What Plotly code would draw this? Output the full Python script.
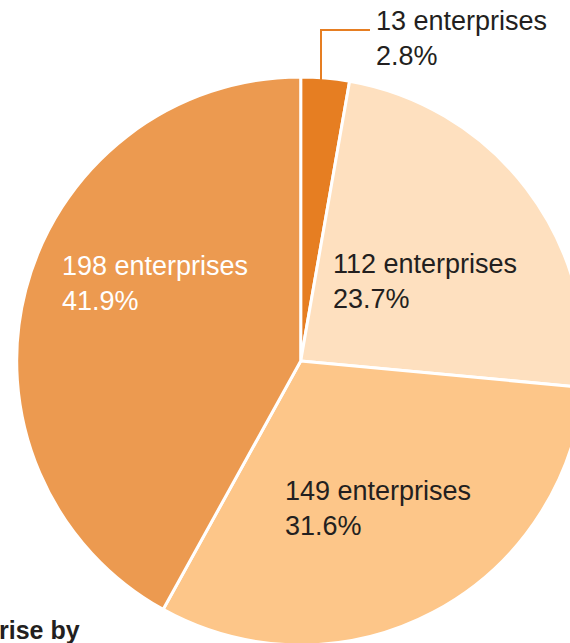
import plotly.graph_objects as go

# Enterprise counts per group, clockwise from 12 o'clock
counts = [13, 112, 149, 198]
colors = ["#E67E22", "#FEE0BF", "#FDC689", "#EC9A50"]
text_colors = ["#231F20", "#231F20", "#231F20", "#FFFFFF"]
unit = "enterprises"

W, H = 600, 660          # canvas larger than the viewport so the pie bleeds off the edges
CX, CY, R = 300.7, 361.0, 284.0

def px(x):
    return x / W

def py(y):
    return 1 - y / H

total = sum(counts)
shares = [c / total * 100 for c in counts]

fig = go.Figure(go.Pie(
    values=counts,
    sort=False,
    direction="clockwise",
    rotation=0,
    marker=dict(colors=colors, line=dict(color="white", width=3)),
    textinfo="none",
    hoverinfo="skip",
    domain=dict(x=[px(CX - R), px(CX + R)], y=[py(CY + R), py(CY - R)]),
    showlegend=False,
))

# label anchor points (left edge, top of text block) in pixels
label_pos = [(374, 4), (331, 247), (283, 474), (60, 249)]
for c, s, tc, (lx, ly) in zip(counts, shares, text_colors, label_pos):
    fig.add_annotation(
        x=px(lx), y=py(ly), xref="paper", yref="paper",
        xanchor="left", yanchor="top", align="left", showarrow=False,
        text=f"{c} {unit}<br>{s:.1f}%",
        font=dict(family="Liberation Sans, Arial, sans-serif", size=27, color=tc),
    )

# leader line for the smallest slice
fig.add_shape(type="path", xref="paper", yref="paper",
              path=f"M {px(321)} {py(80)} L {px(321)} {py(30)} L {px(370)} {py(30)}",
              line=dict(color="#E67E22", width=2))

fig.add_annotation(
    x=px(-3), y=py(646), xref="paper", yref="paper",
    xanchor="left", yanchor="bottom", showarrow=False,
    text="<b>rise by</b>",
    font=dict(family="Liberation Sans, Arial, sans-serif", size=25, color="#231F20"),
)

fig.update_layout(
    width=W, height=H,
    margin=dict(l=0, r=0, t=0, b=0),
    paper_bgcolor="white",
    plot_bgcolor="white",
)

fig.write_html(
    "out.html",
    config={"displayModeBar": False},
    post_script=(
        "document.documentElement.style.overflow='hidden';"
        "document.body.style.overflow='hidden';"
        "document.body.style.margin='0';"
    ),
)
